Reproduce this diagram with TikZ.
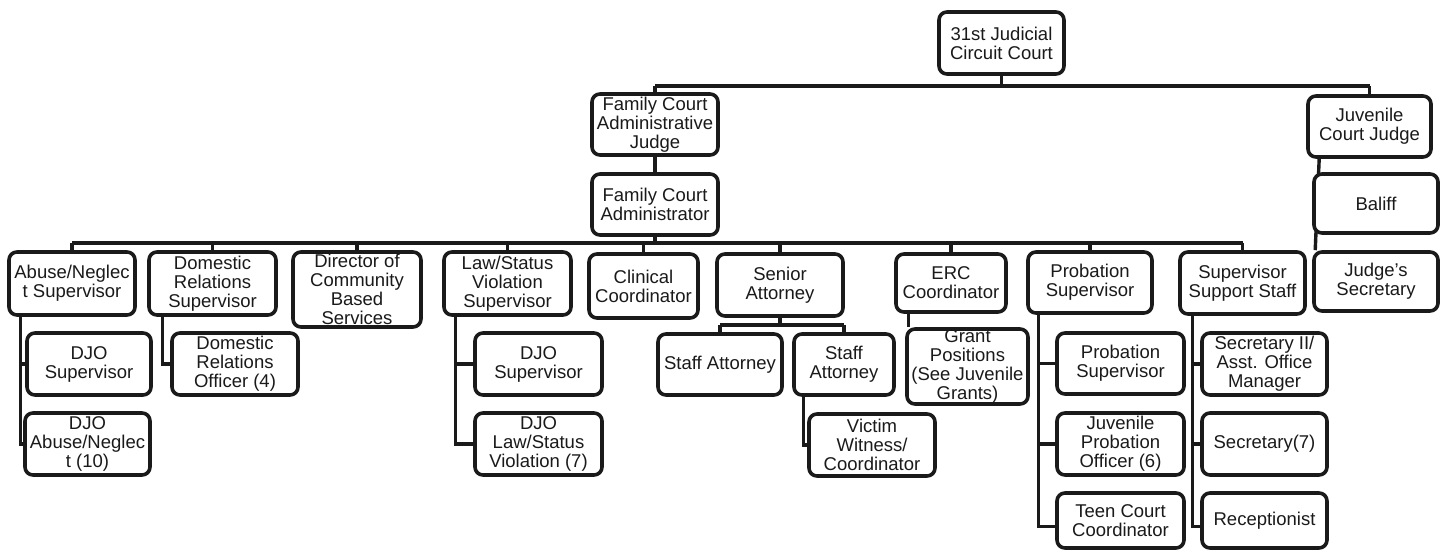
\documentclass[tikz,border=0pt]{standalone}
\usepackage{fontspec}
\setmainfont{Liberation Sans}
\usetikzlibrary{calc,backgrounds}
\definecolor{ink}{HTML}{1A1A1A}
\tikzset{
  orgbox/.style={draw=ink, line width=3.6pt, rounded corners=8pt, fill=white,
    inner sep=0pt, align=center, text=ink,
    font=\fontsize{18.5}{19}\selectfont},
  link/.style={draw=ink, line width=3.4pt},
}
% box given by its outer corners: name, x1, y1, x2, y2, text
\newcommand\orgbox[6]{%
  \node[orgbox, minimum width={(#4-#2-4)*1pt}, minimum height={(#5-#3-4)*1pt}]
    (#1) at ({(#2+#4)/2},{(#3+#5)/2}) {#6};}
\begin{document}
\begin{tikzpicture}[x=1pt,y=-1pt]
\useasboundingbox (0,0) rectangle (1446,552);

\coordinate (topbus) at (0,86);
\coordinate (midbus) at (0,243);

% top level
\orgbox{root}{937}{10}{1066}{76}{31st Judicial\\Circuit Court}
\orgbox{fcaj}{590}{92}{720}{157}{Family Court\\Administrative\\Judge}
\orgbox{fca}{590}{172}{720}{237}{Family Court\\Administrator}
\orgbox{jcj}{1306}{94}{1433}{159}{Juvenile\\Court Judge}
\orgbox{bal}{1312}{172}{1440}{235}{Baliff}
\orgbox{jsec}{1312}{250}{1440}{313}{Judge's\\Secretary}

% second level
\orgbox{ans}{7}{250}{137}{317}{Abuse/Neglec\\t Supervisor}
\orgbox{drs}{147}{250}{278}{317}{Domestic\\Relations\\Supervisor}
\orgbox{dir}{291}{250}{423}{329}{Director of\\Community\\Based\\Services}
\orgbox{lsv}{442}{250}{573}{317}{Law/Status\\Violation\\Supervisor}
\orgbox{clin}{587}{252}{700}{320}{Clinical\\Coordinator}
\orgbox{sa}{715}{252}{845}{318}{Senior\\Attorney}
\orgbox{erc}{894}{252}{1008}{314}{ERC\\Coordinator}
\orgbox{ps}{1026}{250}{1154}{315}{Probation\\Supervisor}
\orgbox{sss}{1178}{250}{1307}{316}{Supervisor\\Support Staff}

% third level
\orgbox{djoa}{25}{331}{153}{397}{DJO\\Supervisor}
\orgbox{djob}{23}{411}{152}{477}{DJO\\Abuse/Neglec\\t (10)}
\orgbox{dro}{170}{331}{300}{397}{Domestic\\Relations\\Officer (4)}
\orgbox{djoc}{473}{331}{604}{397}{DJO\\Supervisor}
\orgbox{djod}{473}{411}{604}{477}{DJO\\Law/Status\\Violation (7)}
\orgbox{sta}{656}{332}{784}{397}{Staff Attorney}
\orgbox{stb}{792}{332}{896}{397}{Staff\\Attorney}
\orgbox{vw}{807}{412}{937}{478}{Victim\\Witness/\\Coordinator}
\orgbox{gp}{905}{327}{1030}{406}{Grant\\Positions\\(See Juvenile\\Grants)}
\orgbox{psb}{1055}{331}{1186}{396}{Probation\\Supervisor}
\orgbox{jpo}{1055}{411}{1186}{477}{Juvenile\\Probation\\Officer (6)}
\orgbox{tcc}{1055}{491}{1186}{550}{Teen Court\\Coordinator}
\orgbox{seca}{1200}{331}{1329}{397}{Secretary II/\\Asst. Office\\Manager}
\orgbox{secb}{1200}{411}{1329}{477}{Secretary(7)}
\orgbox{rec}{1200}{491}{1329}{550}{Receptionist}

% connectors, kept behind the boxes
\begin{scope}[on background layer]
\path[link] (root.south) -- (root.south |- topbus);
\path[link] (fcaj.north |- topbus) -- (jcj.north |- topbus);
\path[link] (fcaj.north |- topbus) -- (fcaj.north);
\path[link] (jcj.north |- topbus) -- (jcj.north);
\path[link] (fcaj.south) -- (fca.north);
\path[link] (fca.south) -- (fca.south |- midbus);
\path[link] (ans.north |- midbus) -- (sss.north |- midbus);
\foreach \n in {ans,drs,dir,lsv,clin,sa,erc,ps,sss}
  \path[link] (\n.north |- midbus) -- (\n.north);

% Juvenile Court Judge down to the Judge's Secretary
\path[link] ([xshift=13pt]jcj.south west) -- ([xshift=3pt]jsec.north west);

% Abuse/Neglect branch
\coordinate (ansl) at ([xshift=13pt]ans.south west);
\path[link] (ansl) |- (djob.west);
\path[link] (ansl |- djoa.west) -- (djoa.west);

% Domestic Relations branch
\path[link] ([xshift=15pt]drs.south west) |- (dro.west);

% Law/Status branch
\coordinate (lsvl) at ([xshift=13pt]lsv.south west);
\path[link] (lsvl) |- (djod.west);
\path[link] (lsvl |- djoc.west) -- (djoc.west);

% Senior Attorney branch
\coordinate (sabus) at (0,325);
\path[link] (sa.south) -- (sa.south |- sabus);
\path[link] (sta.north |- sabus) -- (stb.north |- sabus);
\path[link] (sta.north |- sabus) -- (sta.north);
\path[link] (stb.north |- sabus) -- (stb.north);
\path[link] ([xshift=11pt]stb.south west) |- (vw.west);

% ERC branch
\path[link] ([xshift=14pt]erc.south west) -- ([xshift=14pt]erc.south west |- gp.north);

% Probation branch
\coordinate (psl) at ([xshift=12pt]ps.south west);
\path[link] (psl) |- ([yshift=-6pt]tcc.west);
\path[link] (psl |- psb.west) -- (psb.west);
\path[link] (psl |- jpo.west) -- (jpo.west);

% Support Staff branch
\coordinate (sssl) at ([xshift=14pt]sss.south west);
\path[link] (sssl) |- ([yshift=-6pt]rec.west);
\path[link] (sssl |- seca.west) -- (seca.west);
\path[link] (sssl |- secb.west) -- (secb.west);
\end{scope}
\end{tikzpicture}
\end{document}
